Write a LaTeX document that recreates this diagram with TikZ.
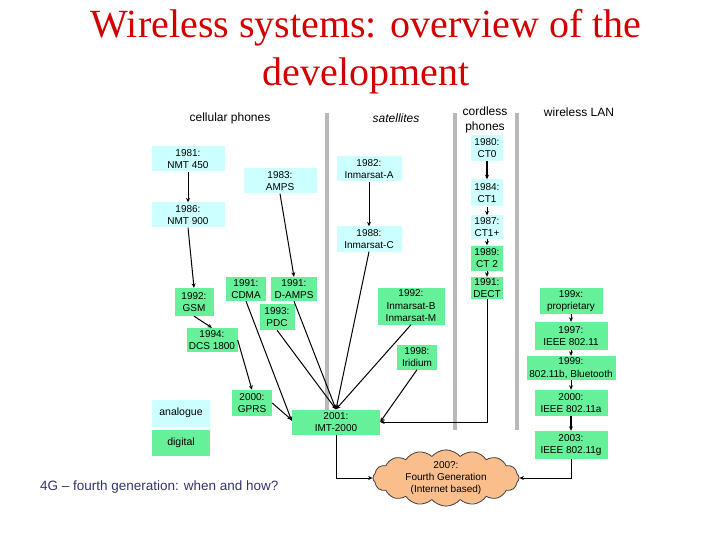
\documentclass[tikz,border=0pt]{standalone}
\usepackage{fontspec}
\setmainfont{Liberation Sans}
\newfontfamily\titlefont{Liberation Serif}
\usetikzlibrary{shapes.symbols,arrows.meta}
\definecolor{anafill}{RGB}{204,255,255}
\definecolor{digfill}{RGB}{102,240,153}
\definecolor{sepgray}{RGB}{185,185,185}
\definecolor{titlered}{RGB}{210,0,0}
\definecolor{navytext}{RGB}{51,51,110}
\definecolor{cloudfill}{RGB}{250,190,140}
\begin{document}
\begin{tikzpicture}[x=1pt,y=-1pt,
  box/.style={inner sep=0pt, align=center, font=\fontsize{10}{12.5}\selectfont},
  anabox/.style={box, fill=anafill},
  digbox/.style={box, fill=digfill},
  arr/.style={-{Stealth[length=4.5pt,width=4pt]}, line width=1pt},
  sepline/.style={draw=sepgray, line width=4.5pt},
  head/.style={align=center, font=\fontsize{12}{15}\selectfont}]
\useasboundingbox (0,0) rectangle (720,540);

% title
\node[font=\titlefont\fontsize{40}{48}\selectfont, text=titlered, align=center] (title) at (366,52) {Wireless systems: overview of the\\development};

% separators
\draw[sepline] (327,113) -- (327,430);
\draw[sepline] (455,113) -- (455,430);
\draw[sepline] (517,113) -- (517,430);

% headers
\node[head] (hcell) at (230,118) {cellular phones};
\node[head] (hsat) at (396,118) {\itshape satellites};
\node[head] (hcord) at (485,120) {cordless\\phones};
\node[head] (hwlan) at (579,112) {wireless LAN};

% cellular
\node[anabox, minimum width=73, minimum height=25] (nmt450) at (188,159) {1981:\\NMT 450};
\node[anabox, minimum width=73, minimum height=25] (amps) at (280,181) {1983:\\AMPS};
\node[anabox, minimum width=73, minimum height=25] (nmt900) at (188,215) {1986:\\NMT 900};
\node[digbox, minimum width=39, minimum height=28] (gsm) at (194,302) {1992:\\GSM};
\node[digbox, minimum width=40, minimum height=24] (cdma) at (246,289) {1991:\\CDMA};
\node[digbox, minimum width=46, minimum height=24] (damps) at (294,289) {1991:\\D-AMPS};
\node[digbox, minimum width=35, minimum height=26] (pdc) at (277,317) {1993:\\PDC};
\node[digbox, minimum width=51, minimum height=24] (dcs) at (212,340) {1994:\\DCS 1800};
\node[digbox, minimum width=40, minimum height=26] (gprs) at (252,403) {2000:\\GPRS};
\node[digbox, minimum width=88, minimum height=25] (imt) at (336,422) {2001:\\IMT-2000};

% satellites
\node[anabox, minimum width=65, minimum height=25] (inmA) at (369,169) {1982:\\Inmarsat-A};
\node[anabox, minimum width=65, minimum height=25] (inmC) at (369,239) {1988:\\Inmarsat-C};
\node[digbox, minimum width=67, minimum height=37] (inmB) at (411,306) {1992:\\Inmarsat-B\\Inmarsat-M};
\node[digbox, minimum width=40, minimum height=25] (irid) at (417,357) {1998:\\Iridium};

% cordless
\node[anabox, minimum width=32, minimum height=26] (ct0) at (487,148) {1980:\\CT0};
\node[anabox, minimum width=32, minimum height=27] (ct1) at (487,193) {1984:\\CT1};
\node[anabox, minimum width=32, minimum height=23] (ct1p) at (487,227) {1987:\\CT1+};
\node[digbox, minimum width=32, minimum height=25] (ct2) at (487,258) {1989:\\CT 2};
\node[digbox, minimum width=32, minimum height=22] (dect) at (487,288) {1991:\\DECT};

% wireless LAN
\node[digbox, minimum width=63, minimum height=26] (w199x) at (571,301) {199x:\\proprietary};
\node[digbox, minimum width=73, minimum height=28] (w1997) at (571,336) {1997:\\IEEE 802.11};
\node[digbox, minimum width=89, minimum height=24] (w1999) at (571,368) {1999:\\802.11b, Bluetooth};
\node[digbox, minimum width=73, minimum height=26] (w2000) at (571,403) {2000:\\IEEE 802.11a};
\node[digbox, minimum width=73, minimum height=28] (w2003) at (571,445) {2003:\\IEEE 802.11g};

% legend
\node[anabox, minimum width=58, minimum height=27, font=\fontsize{10.5}{12}\selectfont] (lana) at (181,413) {analogue};
\node[digbox, minimum width=58, minimum height=26, font=\fontsize{10.5}{12}\selectfont] (ldig) at (181,443) {digital};

% cloud
\node[cloud, cloud puffs=16, cloud puff arc=100, cloud ignores aspect, minimum width=146, minimum height=53, inner sep=0pt,
  fill=cloudfill, draw=black!75, line width=0.8pt, align=center, font=\fontsize{10}{12}\selectfont] (fourg) at (446,478)
  {200?:\\Fourth Generation\\(Internet based)};

% bottom question
\node[anchor=east, text=navytext, font=\fontsize{13.5}{16}\selectfont] (q) at (282,487) {4G -- fourth generation: when and how?};

% connectors cellular
\draw[arr] (nmt450) -- (nmt900);
\draw[arr] (nmt900.south) -- (gsm.north);
\draw[arr] (amps.south) -- (damps.north);
\draw[arr] (gsm.south) -- (dcs.north);
\draw[arr] (dcs.east) -- (gprs.north);
\draw[arr] (cdma.south) -- ([yshift=1pt]imt.west);
\draw[arr] (gprs.east) -- ([yshift=2pt]imt.west);
\draw[arr] (damps.south) -- (imt.north);
\draw[arr] (pdc.south) -- (imt.north);
% satellites
\draw[arr] (inmA) -- (inmC);
\draw[arr] (inmC.south) -- (imt.north);
\draw[arr] (inmB.south) -- (imt.north);
\draw[arr] (irid.south) -- (imt.east);
% cordless
\draw[arr, line width=1.6pt] (ct0) -- (ct1);
\draw[arr] (ct1) -- (ct1p);
\draw[arr] (ct1p) -- (ct2);
\draw[arr] (ct2) -- (dect);
\draw[arr] (dect.south) |- (imt.east);
% wlan
\draw[arr] (w199x) -- (w1997);
\draw[arr] (w1997) -- (w1999);
\draw[arr] (w1999) -- (w2000);
\draw[arr, line width=1.4pt] (w2000) -- (w2003);
% to 4G
\draw[arr] (imt.south) |- (fourg.west);
\draw[arr] (w2003.south) |- (fourg.east);
\end{tikzpicture}
\end{document}
